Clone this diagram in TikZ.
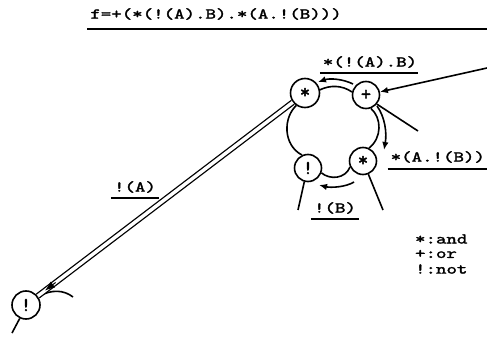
\documentclass[tikz,border=0pt]{standalone}
\usepackage{fontspec}
\newfontfamily\twfont{lmmono10-regular}[Extension=.otf, FakeBold=1.6]
\usetikzlibrary{arrows.meta}
\begin{document}
\begin{tikzpicture}[x=1pt,y=-1pt, line width=1.6pt,
  gate/.style={circle, draw, fill=white, minimum size=27pt, inner sep=0pt,
    font=\twfont\fontsize{20}{20}\selectfont},
  lbl/.style={font=\twfont\fontsize{15}{12}\selectfont, xscale=1.33,
    transform shape, inner sep=0pt},
  ul/.style={line width=1.8pt},
  tip/.style={-{Latex[length=8pt,width=6.5pt]}}]
\useasboundingbox (0,0) rectangle (487,339);

% gates
\node[gate, minimum size=29pt] (tstar) at (305,93) {*};
\node[gate] (plus) at (366,95) {+};
\node[gate] (bnot) at (308,168) {!};
\node[gate] (bstar) at (363,161) {*};
\node[gate, minimum size=28pt] (lnot) at (26,305) {!};

% ring
\draw (tstar.12) .. controls (330,85) and (342,85) .. (plus.168);
\draw (plus.-70) .. controls (382,118) and (382,138) .. (bstar.65);
\draw (bstar.205) .. controls (345,179) and (330,180) .. (bnot.-20);
\draw (bnot.115) .. controls (283,145) and (283,118) .. (tstar.235);

% arrows along ring
\coordinate (ta1) at (353,84);
\coordinate (ta2) at (318,82);
\draw[tip] (ta1) .. controls (343,79) and (330,78) .. (ta2);
\coordinate (ra1) at (377,106);
\coordinate (ra2) at (384,150);
\draw[tip] (ra1) .. controls (385,117) and (387,133) .. (ra2);
\coordinate (ba1) at (354,182);
\coordinate (ba2) at (319,185);
\draw[tip] (ba1) .. controls (346,187) and (331,188) .. (ba2);

% incoming line to +
\coordinate (re) at (487,68);
\draw[tip] (re) -- (plus);
% stubs
\coordinate (ps) at (418,131);
\draw (plus.-40) -- (ps);
\coordinate (bns) at (298,210);
\draw (bnot.-105) -- (bns);
\coordinate (bss) at (383,210);
\draw (bstar.-68) -- (bss);
\coordinate (ls1) at (73,297);
\draw (lnot.35) .. controls (52,289) and (64,290) .. (ls1);
\coordinate (ls2) at (12,333);
\draw (lnot.-115) -- (ls2);

% double connector
\draw[line width=1.3pt, double distance=3.4pt] (tstar) -- (lnot);
\path (tstar) -- (lnot) coordinate[pos=0.93] (ah1) coordinate[pos=0.972] (ah2);
\draw[-{Latex[length=10pt,width=7.5pt]}, line width=1pt] (ah1) -- (ah2);

% labels
\node[lbl] (formula) at (216,14) {f=+(*(!(A).B).*(A.!(B)))};
\coordinate (fr) at (487,29);
\draw[ul] ([xshift=-2pt]formula.west |- fr) -- (fr);

\node[lbl] (l1) at (370,62) {*(!(A).B)};
\draw[ul] ([yshift=-4pt,xshift=-2pt]l1.south west) -- ([yshift=-4pt]l1.south east);

\node[lbl, anchor=east] (l2) at (486,157) {*(A.!(B))};
\coordinate (fr2) at (487,169);
\draw[ul] ([xshift=-2pt]l2.west |- fr2) -- (fr2);

\node[lbl] (l3) at (335,208) {!(B)};
\draw[ul] ([yshift=-4pt,xshift=-2pt]l3.south west) -- ([yshift=-4pt,xshift=2pt]l3.south east);

\node[lbl] (l4) at (135,187) {!(A)};
\draw[ul] ([yshift=-4pt,xshift=-2pt]l4.south west) -- ([yshift=-4pt,xshift=2pt]l4.south east);

\node[lbl, anchor=west] (lg1) at (414,239) {*:and};
\node[lbl, anchor=west] (lg2) at (414,254) {+:or};
\node[lbl, anchor=west] (lg3) at (414,269) {!:not};
\end{tikzpicture}
\end{document}
